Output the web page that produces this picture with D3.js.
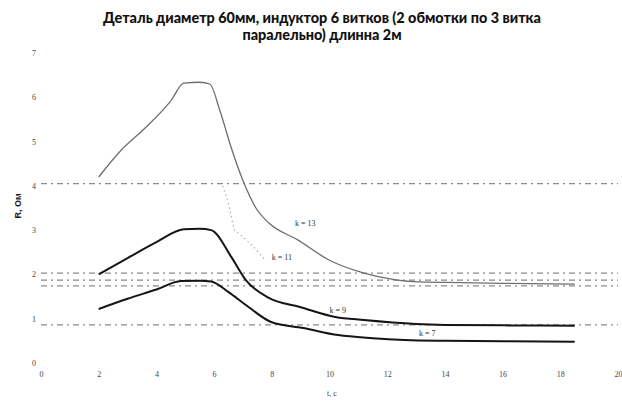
<!DOCTYPE html>
<html>
<head>
<meta charset="utf-8">
<script src="https://cdn.jsdelivr.net/npm/d3@7/dist/d3.min.js"></script>
<style>
  html, body { margin: 0; padding: 0; background: #fff; }
  svg { display: block; }
</style>
</head>
<body>
<svg id="chart" width="622" height="401"></svg>
<script>
// Title lines
const titleLines = [
  "Деталь диаметр 60мм, индуктор 6 витков (2 обмотки по 3 витка",
  "паралельно) длинна 2м"
];

// Axis ticks
const xTicks = [0, 2, 4, 6, 8, 10, 12, 14, 16, 18, 20];
const yTicks = [0, 1, 2, 3, 4, 5, 6, 7];

// Resistance curves R(t) for different k
const t13 = [2, 2.8, 3.6, 4.5, 4.95, 5.5, 5.85, 6.2, 6.6, 7.0, 7.45, 7.9, 8.9, 10.0, 11.2, 12.1, 13.1, 14.1, 16, 18.5];
const r13 = [4.2, 4.82, 5.3, 5.92, 6.32, 6.34, 6.3, 5.7, 4.85, 4.12, 3.5, 3.16, 2.78, 2.32, 2.03, 1.9, 1.83, 1.82, 1.8, 1.78];

const t11 = [6.3, 6.5, 6.7, 7.0, 7.4, 7.8];
const r11 = [4.0, 3.6, 3.0, 2.85, 2.6, 2.3];

const t9 = [2, 3, 4, 4.95, 5.5, 5.9, 6.6, 7.1, 7.9, 9.0, 10.2, 11.2, 13, 14, 16, 18.5];
const r9 = [2.0, 2.37, 2.73, 3.02, 3.03, 3.0, 2.39, 1.87, 1.47, 1.26, 1.04, 0.97, 0.88, 0.86, 0.85, 0.84];

const t7 = [2, 3, 4, 4.85, 5.5, 5.9, 6.5, 7.1, 8.0, 9.1, 10.3, 11.5, 12.6, 14, 16, 18.5];
const r7 = [1.22, 1.45, 1.66, 1.85, 1.86, 1.84, 1.6, 1.31, 0.92, 0.79, 0.63, 0.56, 0.52, 0.5, 0.49, 0.48];

// Horizontal reference levels
const refLevels = [4.05, 2.03, 1.87, 1.74, 0.86];

// Curve labels
const labelText = ["k = 13", "k = 11", "k = 9", "k = 7"];
const labelT = [8.8, 8.0, 10.0, 13.1];
const labelR = [3.1, 2.33, 1.14, 0.6];

const svg = d3.select("#chart");
const x = d3.scaleLinear().domain([0, 20]).range([41, 618]);
const y = d3.scaleLinear().domain([0, 7]).range([363, 53]);

// Title
svg.append("g").selectAll("text").data(titleLines).join("text")
  .attr("x", 322).attr("y", (d, i) => 23 + i * 17)
  .attr("text-anchor", "middle")
  .attr("font-family", "Lato, 'Open Sans', sans-serif")
  .attr("font-weight", 900)
  .attr("font-size", 14.4)
  .attr("fill", "#111")
  .text(d => d);

// Axes (labels only)
const fmt = d3.format("d");
const xAxis = d3.axisBottom(x).tickValues(xTicks).tickFormat(fmt).tickSize(0).tickPadding(0);
const gx = svg.append("g").attr("transform", "translate(0,371)").call(xAxis);
gx.select(".domain").remove();
gx.selectAll("text").attr("font-family", "'Liberation Serif', serif").attr("font-size", 8).attr("fill", "#444");

const yAxis = d3.axisLeft(y).tickValues(yTicks).tickFormat(fmt).tickSize(0).tickPadding(0);
const gy = svg.append("g").attr("transform", "translate(36,0)").call(yAxis);
gy.select(".domain").remove();
gy.selectAll("text").attr("font-family", "'Liberation Serif', serif").attr("font-size", 8).attr("fill", "#444");

// Axis titles
svg.append("text").attr("x", 332).attr("y", 396).attr("text-anchor", "middle")
  .attr("font-family", "'Liberation Serif', serif").attr("font-size", 8).attr("fill", "#333")
  .text("t, c");
svg.append("text").attr("transform", "translate(21,206) rotate(-90)").attr("text-anchor", "middle")
  .attr("font-family", "'Liberation Sans', sans-serif").attr("font-weight", "bold").attr("font-size", 9).attr("fill", "#222")
  .text("R, Ом");

// Reference dash-dot lines
svg.append("g").selectAll("line").data(refLevels).join("line")
  .attr("x1", x(0)).attr("x2", x(20))
  .attr("y1", d => y(d)).attr("y2", d => y(d))
  .attr("stroke", "#8a8a8a").attr("stroke-width", 1.3)
  .attr("stroke-dasharray", "6,4,2,4");

const line = d3.line().x(d => x(d[0])).y(d => y(d[1])).curve(d3.curveMonotoneX);
const zip = (a, b) => a.map((v, i) => [v, b[i]]);

svg.append("path").datum(zip(t13, r13)).attr("d", line)
  .attr("fill", "none").attr("stroke", "#6e6e6e").attr("stroke-width", 1.3);
svg.append("path").datum(zip(t11, r11)).attr("d", d3.line().x(d => x(d[0])).y(d => y(d[1])))
  .attr("fill", "none").attr("stroke", "#b0b0b0").attr("stroke-width", 1.2).attr("stroke-dasharray", "1.5,3");
svg.append("path").datum(zip(t9, r9)).attr("d", line)
  .attr("fill", "none").attr("stroke", "#151515").attr("stroke-width", 2);
svg.append("path").datum(zip(t7, r7)).attr("d", line)
  .attr("fill", "none").attr("stroke", "#151515").attr("stroke-width", 2);

// Curve labels
svg.append("g").selectAll("text").data(labelText).join("text")
  .attr("x", (d, i) => x(labelT[i])).attr("y", (d, i) => y(labelR[i]))
  .attr("font-family", "'Liberation Serif', serif").attr("font-size", 8).attr("fill", "#333")
  .text(d => d);
</script>
</body>
</html>
